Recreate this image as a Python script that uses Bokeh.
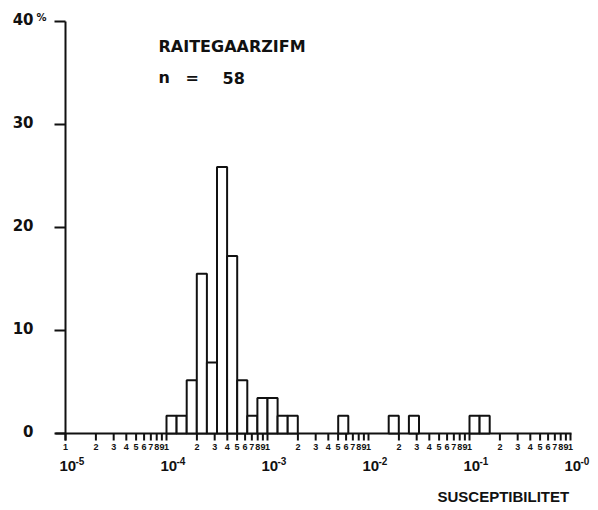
import numpy as np
from bokeh.plotting import figure
from bokeh.models import Range1d
from bokeh.core.properties import value
from bokeh.embed import file_html
from bokeh.resources import INLINE

# Histogram of susceptibility values, bins 0.1 decade wide (left edge as log10)
bin_left_log10 = [-4.0, -3.9, -3.8, -3.7, -3.6, -3.5, -3.4, -3.3, -3.2, -3.1,
                  -3.0, -2.9, -2.8, -2.3, -1.8, -1.6, -1.0, -0.9]
counts = [1, 1, 3, 9, 4, 15, 10, 3, 1, 2, 2, 1, 1, 1, 1, 1, 1, 1]
bin_width_log10 = 0.1
n_total = 58

site_name = "RAITEGAARZIFM"
x_title = "SUSCEPTIBILITET"
y_ticks = [0, 10, 20, 30, 40]
y_tick_labels = ["0", "10", "20", "30", "40"]
decades = [-5, -4, -3, -2, -1, 0]
decade_exponents = ["-5", "-4", "-3", "-2", "-1", "-0"]
minor_digits = ["2", "3", "4", "5", "6", "7", "8", "9"]

W, H = 598, 510
DEC_PX = 101.0      # pixels per decade
X_ORIGIN_PX = 65.0  # canvas x of 10^-5
PCT_PX = 10.3       # pixels per percent
BASE_PX = 433.0     # canvas y of 0 %


def xd(px):
    return 10 ** (-5 + (px - X_ORIGIN_PX) / DEC_PX)


def yd(py):
    return (BASE_PX - py) / PCT_PX


p = figure(width=W, height=H, x_axis_type="log",
           x_axis_location=None, y_axis_location=None,
           x_range=Range1d(xd(0), xd(W)), y_range=Range1d(yd(H), yd(0)),
           toolbar_location=None, output_backend="svg", min_border=0,
           outline_line_color=None, background_fill_color="white")
p.grid.visible = False

left = np.power(10.0, np.array(bin_left_log10))
right = np.power(10.0, np.array(bin_left_log10) + bin_width_log10)
pct = np.array(counts) / n_total * 100.0

INK = "#111111"
LW = 2

# axis lines
p.segment(x0=[xd(55), 1e-5], y0=[0, yd(440)], x1=[xd(571), 1e-5], y1=[0, 40],
          line_color=INK, line_width=LW)

# y ticks pointing left
p.segment(x0=[xd(54)] * len(y_ticks), y0=y_ticks, x1=[1e-5] * len(y_ticks), y1=y_ticks,
          line_color=INK, line_width=LW)

# x ticks at 1..9 of every decade
tick_x = []
for e in decades[:-1]:
    for k in range(1, 10):
        tick_x.append(k * 10.0 ** e)
tick_x.append(1.0)
p.segment(x0=tick_x, y0=[0] * len(tick_x), x1=tick_x, y1=[yd(440)] * len(tick_x),
          line_color=INK, line_width=LW)

# bars
p.quad(left=left, right=right, bottom=0, top=pct,
       fill_color="white", line_color=INK, line_width=LW)

# minor tick digits
mx, mt = [], []
for e in decades[:-1]:
    mx.append(10.0 ** e)
    mt.append("1")
    for d in minor_digits:
        mx.append(int(d) * 10.0 ** e)
        mt.append(d)
mx.append(1.0)
mt.append("1")
p.text(x=mx, y=[yd(446)] * len(mx), text=mt, text_align="center", text_baseline="middle",
       text_font=value("Liberation Sans"), text_font_style="bold",
       text_font_size="9px", text_color=INK)

# decade labels 10^e
dx = [10.0 ** e for e in decades]
p.text(x=dx, y=[yd(465)] * len(dx), text=["10"] * len(dx), x_offset=-6,
       text_align="left", text_baseline="middle",
       text_font=value("Liberation Sans"), text_font_style="bold",
       text_font_size="15px", text_color=INK)
p.text(x=dx, y=[yd(460)] * len(dx), text=decade_exponents, x_offset=10,
       text_align="left", text_baseline="middle",
       text_font=value("Liberation Sans"), text_font_style="bold",
       text_font_size="10px", text_color=INK)

# y tick labels
p.text(x=[xd(33)] * len(y_ticks), y=[t + 3 / PCT_PX for t in y_ticks], text=y_tick_labels,
       text_align="right", text_baseline="middle",
       text_font=value("DejaVu Sans"), text_font_style="bold",
       text_font_size="15px", text_color=INK)
p.text(x=[xd(36)], y=[yd(17)], text=["%"], text_align="left", text_baseline="middle",
       text_font=value("DejaVu Sans"), text_font_style="bold",
       text_font_size="10px", text_color=INK)

# site name and sample size
p.text(x=[xd(158)], y=[yd(46)], text=[site_name], text_align="left", text_baseline="middle",
       text_font=value("DejaVu Sans"), text_font_style="bold",
       text_font_size="16px", text_color=INK)
p.text(x=[xd(158), xd(185), xd(222)], y=[yd(77)] * 3, text=["n", "=", str(n_total)],
       text_align="left", text_baseline="middle",
       text_font=value("DejaVu Sans"), text_font_style="bold",
       text_font_size="16px", text_color=INK)

# x axis title
p.text(x=[xd(437)], y=[yd(496)], text=[x_title], text_align="left", text_baseline="middle",
       text_font=value("Liberation Sans"), text_font_style="bold",
       text_font_size="15px", text_color=INK)

open("out.html", "w").write(file_html(p, INLINE))
